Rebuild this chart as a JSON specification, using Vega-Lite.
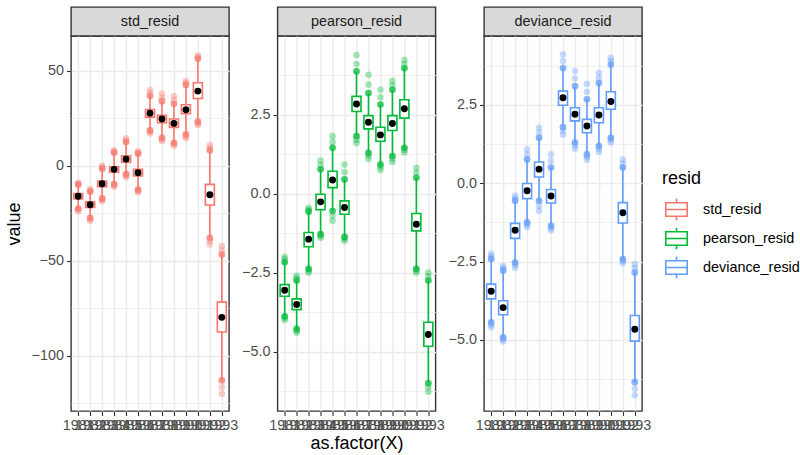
{
  "$schema": "https://vega.github.io/schema/vega-lite/v6.json",
  "background": "white",
  "padding": {"left": 4, "top": 6, "right": 4, "bottom": 4},
  "config": {
    "font": "Liberation Sans",
    "view": {"stroke": "#333333", "strokeWidth": 1.4},
    "axis": {
      "labelFontSize": 14.4, "labelColor": "#4D4D4D", "labelPadding": 3,
      "tickColor": "#333333", "tickSize": 4.5, "tickWidth": 1.1,
      "domain": false, "gridColor": "#EBEBEB",
      "titleFontSize": 18, "titleFontWeight": "normal", "titleColor": "black"
    }
  },
  "datasets": {
    "strips": [{"resid": "std_resid"}, {"resid": "pearson_resid"}, {"resid": "deviance_resid"}],
    "stats": [
      {"resid":"std_resid","year":"1981","lo":-22.5,"q1":-17.5,"mean":-16.1,"q3":-14.7,"hi":-10},
      {"resid":"std_resid","year":"1982","lo":-27.4,"q1":-22,"mean":-20.5,"q3":-19,"hi":-13.7},
      {"resid":"std_resid","year":"1983","lo":-17.2,"q1":-11,"mean":-9.5,"q3":-8,"hi":-1.6},
      {"resid":"std_resid","year":"1984","lo":-9.6,"q1":-3.4,"mean":-1.9,"q3":-0.5,"hi":6.8},
      {"resid":"std_resid","year":"1985","lo":-4.4,"q1":1.9,"mean":3.5,"q3":5.2,"hi":12.5},
      {"resid":"std_resid","year":"1986","lo":-12.6,"q1":-5.4,"mean":-3.7,"q3":-1.9,"hi":6.3},
      {"resid":"std_resid","year":"1987","lo":18.6,"q1":25.6,"mean":27.7,"q3":29.6,"hi":36.7},
      {"resid":"std_resid","year":"1988","lo":14.7,"q1":22.6,"mean":24.6,"q3":26.5,"hi":34},
      {"resid":"std_resid","year":"1989","lo":12.1,"q1":20.2,"mean":22.3,"q3":24.6,"hi":32.6},
      {"resid":"std_resid","year":"1990","lo":16.5,"q1":27.4,"mean":29.5,"q3":32.1,"hi":42.5},
      {"resid":"std_resid","year":"1991","lo":23.2,"q1":35.4,"mean":39.3,"q3":43.7,"hi":56.3},
      {"resid":"std_resid","year":"1992","lo":-38,"q1":-20.7,"mean":-15.3,"q3":-9.8,"hi":8.1},
      {"resid":"std_resid","year":"1993","lo":-113,"q1":-87.5,"mean":-79.8,"q3":-71.8,"hi":-46.7},
      {"resid":"pearson_resid","year":"1981","lo":-3.88,"q1":-3.25,"mean":-3.06,"q3":-2.88,"hi":-2.17},
      {"resid":"pearson_resid","year":"1982","lo":-4.28,"q1":-3.67,"mean":-3.51,"q3":-3.33,"hi":-2.75},
      {"resid":"pearson_resid","year":"1983","lo":-2.38,"q1":-1.68,"mean":-1.44,"q3":-1.23,"hi":-0.57},
      {"resid":"pearson_resid","year":"1984","lo":-1.28,"q1":-0.51,"mean":-0.26,"q3":-0.02,"hi":0.77},
      {"resid":"pearson_resid","year":"1985","lo":-0.55,"q1":0.19,"mean":0.43,"q3":0.71,"hi":1.45},
      {"resid":"pearson_resid","year":"1986","lo":-1.37,"q1":-0.65,"mean":-0.44,"q3":-0.23,"hi":0.45},
      {"resid":"pearson_resid","year":"1987","lo":1.82,"q1":2.6,"mean":2.84,"q3":3.08,"hi":3.87},
      {"resid":"pearson_resid","year":"1988","lo":1.29,"q1":2.05,"mean":2.26,"q3":2.47,"hi":3.18},
      {"resid":"pearson_resid","year":"1989","lo":0.92,"q1":1.66,"mean":1.86,"q3":2.1,"hi":2.82},
      {"resid":"pearson_resid","year":"1990","lo":1.19,"q1":2.0,"mean":2.22,"q3":2.47,"hi":3.29},
      {"resid":"pearson_resid","year":"1991","lo":1.45,"q1":2.39,"mean":2.69,"q3":2.97,"hi":3.97},
      {"resid":"pearson_resid","year":"1992","lo":-2.38,"q1":-1.18,"mean":-0.97,"q3":-0.63,"hi":0.5},
      {"resid":"pearson_resid","year":"1993","lo":-6.0,"q1":-4.83,"mean":-4.46,"q3":-4.07,"hi":-2.75},
      {"resid":"deviance_resid","year":"1981","lo":-4.44,"q1":-3.69,"mean":-3.45,"q3":-3.22,"hi":-2.42},
      {"resid":"deviance_resid","year":"1982","lo":-4.92,"q1":-4.2,"mean":-3.97,"q3":-3.75,"hi":-2.79},
      {"resid":"deviance_resid","year":"1983","lo":-2.53,"q1":-1.76,"mean":-1.5,"q3":-1.28,"hi":-0.56},
      {"resid":"deviance_resid","year":"1984","lo":-1.25,"q1":-0.49,"mean":-0.24,"q3":-0.01,"hi":0.76},
      {"resid":"deviance_resid","year":"1985","lo":-0.56,"q1":0.2,"mean":0.45,"q3":0.68,"hi":1.45},
      {"resid":"deviance_resid","year":"1986","lo":-1.36,"q1":-0.63,"mean":-0.41,"q3":-0.2,"hi":0.5},
      {"resid":"deviance_resid","year":"1987","lo":1.79,"q1":2.49,"mean":2.73,"q3":2.94,"hi":3.68},
      {"resid":"deviance_resid","year":"1988","lo":1.3,"q1":1.99,"mean":2.2,"q3":2.41,"hi":3.1},
      {"resid":"deviance_resid","year":"1989","lo":0.92,"q1":1.61,"mean":1.83,"q3":2.04,"hi":2.68},
      {"resid":"deviance_resid","year":"1990","lo":1.19,"q1":1.93,"mean":2.18,"q3":2.41,"hi":3.2},
      {"resid":"deviance_resid","year":"1991","lo":1.45,"q1":2.36,"mean":2.61,"q3":2.92,"hi":3.79},
      {"resid":"deviance_resid","year":"1992","lo":-2.42,"q1":-1.27,"mean":-0.94,"q3":-0.62,"hi":0.5},
      {"resid":"deviance_resid","year":"1993","lo":-6.35,"q1":-5.04,"mean":-4.66,"q3":-4.22,"hi":-2.85}
    ],
    "pts": [
      {"resid":"std_resid","year":"1981","value":-10},{"resid":"std_resid","year":"1981","value":-10},{"resid":"std_resid","year":"1981","value":-10},{"resid":"std_resid","year":"1981","value":-9.5},{"resid":"std_resid","year":"1981","value":-9},
      {"resid":"std_resid","year":"1981","value":-22.5},{"resid":"std_resid","year":"1981","value":-22.5},{"resid":"std_resid","year":"1981","value":-22.5},{"resid":"std_resid","year":"1981","value":-23.2},{"resid":"std_resid","year":"1981","value":-24},
      {"resid":"std_resid","year":"1982","value":-13.7},{"resid":"std_resid","year":"1982","value":-13.7},{"resid":"std_resid","year":"1982","value":-13.7},{"resid":"std_resid","year":"1982","value":-13},{"resid":"std_resid","year":"1982","value":-12.3},
      {"resid":"std_resid","year":"1982","value":-27.4},{"resid":"std_resid","year":"1982","value":-27.4},{"resid":"std_resid","year":"1982","value":-27.4},{"resid":"std_resid","year":"1982","value":-28.2},{"resid":"std_resid","year":"1982","value":-29},
      {"resid":"std_resid","year":"1983","value":-1.6},{"resid":"std_resid","year":"1983","value":-1.6},{"resid":"std_resid","year":"1983","value":-1.6},{"resid":"std_resid","year":"1983","value":-0.8},{"resid":"std_resid","year":"1983","value":0},
      {"resid":"std_resid","year":"1983","value":-17.2},{"resid":"std_resid","year":"1983","value":-17.2},{"resid":"std_resid","year":"1983","value":-17.2},{"resid":"std_resid","year":"1983","value":-17.9},{"resid":"std_resid","year":"1983","value":-18.6},
      {"resid":"std_resid","year":"1984","value":6.8},{"resid":"std_resid","year":"1984","value":6.8},{"resid":"std_resid","year":"1984","value":6.8},{"resid":"std_resid","year":"1984","value":7.5},{"resid":"std_resid","year":"1984","value":8.2},
      {"resid":"std_resid","year":"1984","value":-9.6},{"resid":"std_resid","year":"1984","value":-9.6},{"resid":"std_resid","year":"1984","value":-9.6},{"resid":"std_resid","year":"1984","value":-10.3},{"resid":"std_resid","year":"1984","value":-11},
      {"resid":"std_resid","year":"1985","value":12.5},{"resid":"std_resid","year":"1985","value":12.5},{"resid":"std_resid","year":"1985","value":12.5},{"resid":"std_resid","year":"1985","value":13.4},{"resid":"std_resid","year":"1985","value":14.4},
      {"resid":"std_resid","year":"1985","value":-4.4},{"resid":"std_resid","year":"1985","value":-4.4},{"resid":"std_resid","year":"1985","value":-4.4},{"resid":"std_resid","year":"1985","value":-5.2},{"resid":"std_resid","year":"1985","value":-6},
      {"resid":"std_resid","year":"1986","value":6.3},{"resid":"std_resid","year":"1986","value":6.3},{"resid":"std_resid","year":"1986","value":6.3},{"resid":"std_resid","year":"1986","value":7},{"resid":"std_resid","year":"1986","value":7.6},
      {"resid":"std_resid","year":"1986","value":-12.6},{"resid":"std_resid","year":"1986","value":-12.6},{"resid":"std_resid","year":"1986","value":-12.6},{"resid":"std_resid","year":"1986","value":-13.3},{"resid":"std_resid","year":"1986","value":-14},
      {"resid":"std_resid","year":"1987","value":36.7},{"resid":"std_resid","year":"1987","value":36.7},{"resid":"std_resid","year":"1987","value":36.7},{"resid":"std_resid","year":"1987","value":38.4},{"resid":"std_resid","year":"1987","value":40},
      {"resid":"std_resid","year":"1987","value":18.6},{"resid":"std_resid","year":"1987","value":18.6},{"resid":"std_resid","year":"1987","value":18.6},{"resid":"std_resid","year":"1987","value":17.8},{"resid":"std_resid","year":"1987","value":17},
      {"resid":"std_resid","year":"1988","value":34},{"resid":"std_resid","year":"1988","value":34},{"resid":"std_resid","year":"1988","value":34},{"resid":"std_resid","year":"1988","value":36},{"resid":"std_resid","year":"1988","value":38},
      {"resid":"std_resid","year":"1988","value":14.7},{"resid":"std_resid","year":"1988","value":14.7},{"resid":"std_resid","year":"1988","value":14.7},{"resid":"std_resid","year":"1988","value":13.8},{"resid":"std_resid","year":"1988","value":13},
      {"resid":"std_resid","year":"1989","value":32.6},{"resid":"std_resid","year":"1989","value":32.6},{"resid":"std_resid","year":"1989","value":32.6},{"resid":"std_resid","year":"1989","value":34.6},{"resid":"std_resid","year":"1989","value":36.7},
      {"resid":"std_resid","year":"1989","value":12.1},{"resid":"std_resid","year":"1989","value":12.1},{"resid":"std_resid","year":"1989","value":12.1},{"resid":"std_resid","year":"1989","value":11.3},{"resid":"std_resid","year":"1989","value":10.5},
      {"resid":"std_resid","year":"1990","value":42.5},{"resid":"std_resid","year":"1990","value":42.5},{"resid":"std_resid","year":"1990","value":42.5},{"resid":"std_resid","year":"1990","value":43.5},{"resid":"std_resid","year":"1990","value":44.6},
      {"resid":"std_resid","year":"1990","value":16.5},{"resid":"std_resid","year":"1990","value":16.5},{"resid":"std_resid","year":"1990","value":16.5},{"resid":"std_resid","year":"1990","value":15.5},{"resid":"std_resid","year":"1990","value":14.5},
      {"resid":"std_resid","year":"1991","value":56.3},{"resid":"std_resid","year":"1991","value":56.3},{"resid":"std_resid","year":"1991","value":56.3},{"resid":"std_resid","year":"1991","value":57.2},{"resid":"std_resid","year":"1991","value":58},
      {"resid":"std_resid","year":"1991","value":23.2},{"resid":"std_resid","year":"1991","value":23.2},{"resid":"std_resid","year":"1991","value":23.2},{"resid":"std_resid","year":"1991","value":22.3},{"resid":"std_resid","year":"1991","value":21.5},
      {"resid":"std_resid","year":"1992","value":8.1},{"resid":"std_resid","year":"1992","value":8.1},{"resid":"std_resid","year":"1992","value":8.1},{"resid":"std_resid","year":"1992","value":9.5},{"resid":"std_resid","year":"1992","value":11},
      {"resid":"std_resid","year":"1992","value":-38},{"resid":"std_resid","year":"1992","value":-38},{"resid":"std_resid","year":"1992","value":-38},{"resid":"std_resid","year":"1992","value":-39.8},{"resid":"std_resid","year":"1992","value":-41.5},
      {"resid":"std_resid","year":"1993","value":-46.7},{"resid":"std_resid","year":"1993","value":-46.7},{"resid":"std_resid","year":"1993","value":-46.7},{"resid":"std_resid","year":"1993","value":-44.5},{"resid":"std_resid","year":"1993","value":-42.3},
      {"resid":"std_resid","year":"1993","value":-113},{"resid":"std_resid","year":"1993","value":-113},{"resid":"std_resid","year":"1993","value":-113},{"resid":"std_resid","year":"1993","value":-116.5},{"resid":"std_resid","year":"1993","value":-120},

      {"resid":"pearson_resid","year":"1981","value":-2.17},{"resid":"pearson_resid","year":"1981","value":-2.17},{"resid":"pearson_resid","year":"1981","value":-2.17},{"resid":"pearson_resid","year":"1981","value":-2.08},{"resid":"pearson_resid","year":"1981","value":-2.0},
      {"resid":"pearson_resid","year":"1981","value":-3.88},{"resid":"pearson_resid","year":"1981","value":-3.88},{"resid":"pearson_resid","year":"1981","value":-3.88},{"resid":"pearson_resid","year":"1981","value":-3.94},{"resid":"pearson_resid","year":"1981","value":-4.0},
      {"resid":"pearson_resid","year":"1982","value":-2.75},{"resid":"pearson_resid","year":"1982","value":-2.75},{"resid":"pearson_resid","year":"1982","value":-2.75},{"resid":"pearson_resid","year":"1982","value":-2.68},{"resid":"pearson_resid","year":"1982","value":-2.6},
      {"resid":"pearson_resid","year":"1982","value":-4.28},{"resid":"pearson_resid","year":"1982","value":-4.28},{"resid":"pearson_resid","year":"1982","value":-4.28},{"resid":"pearson_resid","year":"1982","value":-4.34},{"resid":"pearson_resid","year":"1982","value":-4.4},
      {"resid":"pearson_resid","year":"1983","value":-0.57},{"resid":"pearson_resid","year":"1983","value":-0.57},{"resid":"pearson_resid","year":"1983","value":-0.57},{"resid":"pearson_resid","year":"1983","value":-0.51},{"resid":"pearson_resid","year":"1983","value":-0.45},
      {"resid":"pearson_resid","year":"1983","value":-2.38},{"resid":"pearson_resid","year":"1983","value":-2.38},{"resid":"pearson_resid","year":"1983","value":-2.38},{"resid":"pearson_resid","year":"1983","value":-2.44},{"resid":"pearson_resid","year":"1983","value":-2.5},
      {"resid":"pearson_resid","year":"1984","value":0.77},{"resid":"pearson_resid","year":"1984","value":0.77},{"resid":"pearson_resid","year":"1984","value":0.77},{"resid":"pearson_resid","year":"1984","value":0.91},{"resid":"pearson_resid","year":"1984","value":1.05},
      {"resid":"pearson_resid","year":"1984","value":-1.28},{"resid":"pearson_resid","year":"1984","value":-1.28},{"resid":"pearson_resid","year":"1984","value":-1.28},{"resid":"pearson_resid","year":"1984","value":-1.34},{"resid":"pearson_resid","year":"1984","value":-1.4},
      {"resid":"pearson_resid","year":"1985","value":1.45},{"resid":"pearson_resid","year":"1985","value":1.45},{"resid":"pearson_resid","year":"1985","value":1.45},{"resid":"pearson_resid","year":"1985","value":1.63},{"resid":"pearson_resid","year":"1985","value":1.82},
      {"resid":"pearson_resid","year":"1985","value":-0.55},{"resid":"pearson_resid","year":"1985","value":-0.55},{"resid":"pearson_resid","year":"1985","value":-0.55},{"resid":"pearson_resid","year":"1985","value":-0.7},{"resid":"pearson_resid","year":"1985","value":-0.86},
      {"resid":"pearson_resid","year":"1986","value":0.45},{"resid":"pearson_resid","year":"1986","value":0.45},{"resid":"pearson_resid","year":"1986","value":0.45},{"resid":"pearson_resid","year":"1986","value":0.68},{"resid":"pearson_resid","year":"1986","value":0.92},
      {"resid":"pearson_resid","year":"1986","value":-1.37},{"resid":"pearson_resid","year":"1986","value":-1.37},{"resid":"pearson_resid","year":"1986","value":-1.37},{"resid":"pearson_resid","year":"1986","value":-1.43},{"resid":"pearson_resid","year":"1986","value":-1.5},
      {"resid":"pearson_resid","year":"1987","value":3.87},{"resid":"pearson_resid","year":"1987","value":3.87},{"resid":"pearson_resid","year":"1987","value":3.87},{"resid":"pearson_resid","year":"1987","value":4.1},{"resid":"pearson_resid","year":"1987","value":4.39},
      {"resid":"pearson_resid","year":"1987","value":1.82},{"resid":"pearson_resid","year":"1987","value":1.82},{"resid":"pearson_resid","year":"1987","value":1.82},{"resid":"pearson_resid","year":"1987","value":1.7},{"resid":"pearson_resid","year":"1987","value":1.6},
      {"resid":"pearson_resid","year":"1988","value":3.18},{"resid":"pearson_resid","year":"1988","value":3.18},{"resid":"pearson_resid","year":"1988","value":3.18},{"resid":"pearson_resid","year":"1988","value":3.45},{"resid":"pearson_resid","year":"1988","value":3.76},
      {"resid":"pearson_resid","year":"1988","value":1.29},{"resid":"pearson_resid","year":"1988","value":1.29},{"resid":"pearson_resid","year":"1988","value":1.29},{"resid":"pearson_resid","year":"1988","value":1.2},{"resid":"pearson_resid","year":"1988","value":1.1},
      {"resid":"pearson_resid","year":"1989","value":2.82},{"resid":"pearson_resid","year":"1989","value":2.82},{"resid":"pearson_resid","year":"1989","value":2.82},{"resid":"pearson_resid","year":"1989","value":3.05},{"resid":"pearson_resid","year":"1989","value":3.29},
      {"resid":"pearson_resid","year":"1989","value":0.92},{"resid":"pearson_resid","year":"1989","value":0.92},{"resid":"pearson_resid","year":"1989","value":0.92},{"resid":"pearson_resid","year":"1989","value":0.84},{"resid":"pearson_resid","year":"1989","value":0.75},
      {"resid":"pearson_resid","year":"1990","value":3.29},{"resid":"pearson_resid","year":"1990","value":3.29},{"resid":"pearson_resid","year":"1990","value":3.29},{"resid":"pearson_resid","year":"1990","value":3.43},{"resid":"pearson_resid","year":"1990","value":3.57},
      {"resid":"pearson_resid","year":"1990","value":1.19},{"resid":"pearson_resid","year":"1990","value":1.19},{"resid":"pearson_resid","year":"1990","value":1.19},{"resid":"pearson_resid","year":"1990","value":1.1},{"resid":"pearson_resid","year":"1990","value":1.0},
      {"resid":"pearson_resid","year":"1991","value":3.97},{"resid":"pearson_resid","year":"1991","value":3.97},{"resid":"pearson_resid","year":"1991","value":3.97},{"resid":"pearson_resid","year":"1991","value":4.1},{"resid":"pearson_resid","year":"1991","value":4.23},
      {"resid":"pearson_resid","year":"1991","value":1.45},{"resid":"pearson_resid","year":"1991","value":1.45},{"resid":"pearson_resid","year":"1991","value":1.45},{"resid":"pearson_resid","year":"1991","value":1.38},{"resid":"pearson_resid","year":"1991","value":1.3},
      {"resid":"pearson_resid","year":"1992","value":0.5},{"resid":"pearson_resid","year":"1992","value":0.5},{"resid":"pearson_resid","year":"1992","value":0.5},{"resid":"pearson_resid","year":"1992","value":0.66},{"resid":"pearson_resid","year":"1992","value":0.82},
      {"resid":"pearson_resid","year":"1992","value":-2.38},{"resid":"pearson_resid","year":"1992","value":-2.38},{"resid":"pearson_resid","year":"1992","value":-2.38},{"resid":"pearson_resid","year":"1992","value":-2.44},{"resid":"pearson_resid","year":"1992","value":-2.5},
      {"resid":"pearson_resid","year":"1993","value":-2.75},{"resid":"pearson_resid","year":"1993","value":-2.75},{"resid":"pearson_resid","year":"1993","value":-2.75},{"resid":"pearson_resid","year":"1993","value":-2.62},{"resid":"pearson_resid","year":"1993","value":-2.5},
      {"resid":"pearson_resid","year":"1993","value":-6.0},{"resid":"pearson_resid","year":"1993","value":-6.0},{"resid":"pearson_resid","year":"1993","value":-6.0},{"resid":"pearson_resid","year":"1993","value":-6.13},{"resid":"pearson_resid","year":"1993","value":-6.27},

      {"resid":"deviance_resid","year":"1981","value":-2.42},{"resid":"deviance_resid","year":"1981","value":-2.42},{"resid":"deviance_resid","year":"1981","value":-2.42},{"resid":"deviance_resid","year":"1981","value":-2.33},{"resid":"deviance_resid","year":"1981","value":-2.25},
      {"resid":"deviance_resid","year":"1981","value":-4.44},{"resid":"deviance_resid","year":"1981","value":-4.44},{"resid":"deviance_resid","year":"1981","value":-4.44},{"resid":"deviance_resid","year":"1981","value":-4.52},{"resid":"deviance_resid","year":"1981","value":-4.6},
      {"resid":"deviance_resid","year":"1982","value":-2.79},{"resid":"deviance_resid","year":"1982","value":-2.79},{"resid":"deviance_resid","year":"1982","value":-2.79},{"resid":"deviance_resid","year":"1982","value":-2.71},{"resid":"deviance_resid","year":"1982","value":-2.64},
      {"resid":"deviance_resid","year":"1982","value":-4.92},{"resid":"deviance_resid","year":"1982","value":-4.92},{"resid":"deviance_resid","year":"1982","value":-4.92},{"resid":"deviance_resid","year":"1982","value":-4.98},{"resid":"deviance_resid","year":"1982","value":-5.05},
      {"resid":"deviance_resid","year":"1983","value":-0.56},{"resid":"deviance_resid","year":"1983","value":-0.56},{"resid":"deviance_resid","year":"1983","value":-0.56},{"resid":"deviance_resid","year":"1983","value":-0.48},{"resid":"deviance_resid","year":"1983","value":-0.4},
      {"resid":"deviance_resid","year":"1983","value":-2.53},{"resid":"deviance_resid","year":"1983","value":-2.53},{"resid":"deviance_resid","year":"1983","value":-2.53},{"resid":"deviance_resid","year":"1983","value":-2.61},{"resid":"deviance_resid","year":"1983","value":-2.7},
      {"resid":"deviance_resid","year":"1984","value":0.76},{"resid":"deviance_resid","year":"1984","value":0.76},{"resid":"deviance_resid","year":"1984","value":0.76},{"resid":"deviance_resid","year":"1984","value":0.92},{"resid":"deviance_resid","year":"1984","value":1.08},
      {"resid":"deviance_resid","year":"1984","value":-1.25},{"resid":"deviance_resid","year":"1984","value":-1.25},{"resid":"deviance_resid","year":"1984","value":-1.25},{"resid":"deviance_resid","year":"1984","value":-1.32},{"resid":"deviance_resid","year":"1984","value":-1.4},
      {"resid":"deviance_resid","year":"1985","value":1.45},{"resid":"deviance_resid","year":"1985","value":1.45},{"resid":"deviance_resid","year":"1985","value":1.45},{"resid":"deviance_resid","year":"1985","value":1.61},{"resid":"deviance_resid","year":"1985","value":1.77},
      {"resid":"deviance_resid","year":"1985","value":-0.56},{"resid":"deviance_resid","year":"1985","value":-0.56},{"resid":"deviance_resid","year":"1985","value":-0.56},{"resid":"deviance_resid","year":"1985","value":-0.72},{"resid":"deviance_resid","year":"1985","value":-0.88},
      {"resid":"deviance_resid","year":"1986","value":0.5},{"resid":"deviance_resid","year":"1986","value":0.5},{"resid":"deviance_resid","year":"1986","value":0.5},{"resid":"deviance_resid","year":"1986","value":0.71},{"resid":"deviance_resid","year":"1986","value":0.92},
      {"resid":"deviance_resid","year":"1986","value":-1.36},{"resid":"deviance_resid","year":"1986","value":-1.36},{"resid":"deviance_resid","year":"1986","value":-1.36},{"resid":"deviance_resid","year":"1986","value":-1.43},{"resid":"deviance_resid","year":"1986","value":-1.5},
      {"resid":"deviance_resid","year":"1987","value":3.68},{"resid":"deviance_resid","year":"1987","value":3.68},{"resid":"deviance_resid","year":"1987","value":3.68},{"resid":"deviance_resid","year":"1987","value":3.9},{"resid":"deviance_resid","year":"1987","value":4.11},
      {"resid":"deviance_resid","year":"1987","value":1.79},{"resid":"deviance_resid","year":"1987","value":1.79},{"resid":"deviance_resid","year":"1987","value":1.79},{"resid":"deviance_resid","year":"1987","value":1.67},{"resid":"deviance_resid","year":"1987","value":1.55},
      {"resid":"deviance_resid","year":"1988","value":3.1},{"resid":"deviance_resid","year":"1988","value":3.1},{"resid":"deviance_resid","year":"1988","value":3.1},{"resid":"deviance_resid","year":"1988","value":3.34},{"resid":"deviance_resid","year":"1988","value":3.58},
      {"resid":"deviance_resid","year":"1988","value":1.3},{"resid":"deviance_resid","year":"1988","value":1.3},{"resid":"deviance_resid","year":"1988","value":1.3},{"resid":"deviance_resid","year":"1988","value":1.2},{"resid":"deviance_resid","year":"1988","value":1.1},
      {"resid":"deviance_resid","year":"1989","value":2.68},{"resid":"deviance_resid","year":"1989","value":2.68},{"resid":"deviance_resid","year":"1989","value":2.68},{"resid":"deviance_resid","year":"1989","value":2.92},{"resid":"deviance_resid","year":"1989","value":3.17},
      {"resid":"deviance_resid","year":"1989","value":0.92},{"resid":"deviance_resid","year":"1989","value":0.92},{"resid":"deviance_resid","year":"1989","value":0.92},{"resid":"deviance_resid","year":"1989","value":0.84},{"resid":"deviance_resid","year":"1989","value":0.75},
      {"resid":"deviance_resid","year":"1990","value":3.2},{"resid":"deviance_resid","year":"1990","value":3.2},{"resid":"deviance_resid","year":"1990","value":3.2},{"resid":"deviance_resid","year":"1990","value":3.36},{"resid":"deviance_resid","year":"1990","value":3.52},
      {"resid":"deviance_resid","year":"1990","value":1.19},{"resid":"deviance_resid","year":"1990","value":1.19},{"resid":"deviance_resid","year":"1990","value":1.19},{"resid":"deviance_resid","year":"1990","value":1.1},{"resid":"deviance_resid","year":"1990","value":1.0},
      {"resid":"deviance_resid","year":"1991","value":3.79},{"resid":"deviance_resid","year":"1991","value":3.79},{"resid":"deviance_resid","year":"1991","value":3.79},{"resid":"deviance_resid","year":"1991","value":3.9},{"resid":"deviance_resid","year":"1991","value":4.0},
      {"resid":"deviance_resid","year":"1991","value":1.45},{"resid":"deviance_resid","year":"1991","value":1.45},{"resid":"deviance_resid","year":"1991","value":1.45},{"resid":"deviance_resid","year":"1991","value":1.38},{"resid":"deviance_resid","year":"1991","value":1.3},
      {"resid":"deviance_resid","year":"1992","value":0.5},{"resid":"deviance_resid","year":"1992","value":0.5},{"resid":"deviance_resid","year":"1992","value":0.5},{"resid":"deviance_resid","year":"1992","value":0.63},{"resid":"deviance_resid","year":"1992","value":0.76},
      {"resid":"deviance_resid","year":"1992","value":-2.42},{"resid":"deviance_resid","year":"1992","value":-2.42},{"resid":"deviance_resid","year":"1992","value":-2.42},{"resid":"deviance_resid","year":"1992","value":-2.48},{"resid":"deviance_resid","year":"1992","value":-2.55},
      {"resid":"deviance_resid","year":"1993","value":-2.85},{"resid":"deviance_resid","year":"1993","value":-2.85},{"resid":"deviance_resid","year":"1993","value":-2.85},{"resid":"deviance_resid","year":"1993","value":-2.71},{"resid":"deviance_resid","year":"1993","value":-2.58},
      {"resid":"deviance_resid","year":"1993","value":-6.35},{"resid":"deviance_resid","year":"1993","value":-6.35},{"resid":"deviance_resid","year":"1993","value":-6.35},{"resid":"deviance_resid","year":"1993","value":-6.56},{"resid":"deviance_resid","year":"1993","value":-6.77}
    ]
  },
  "hconcat": [
    {
      "vconcat": [
        {
          "data": {"name": "strips"},
          "transform": [{"filter": "datum.resid === 'std_resid'"}],
          "width": 158, "height": 29,
          "view": {"fill": "#D9D9D9", "stroke": "#333333", "strokeWidth": 1.4},
          "mark": {"type": "text", "fontSize": 14.4, "color": "#1A1A1A", "baseline": "middle", "align": "center"},
          "encoding": {"text": {"field": "resid"}}
        },
        {
          "width": 158, "height": 375,
          "encoding": {
            "x": {"field": "year", "type": "nominal", "title": null,
              "scale": {"type": "point", "padding": 0.6},
              "axis": {"labelAngle": 0, "labelOverlap": false, "labelFlush": false, "labelBound": false, "grid": true, "gridWidth": 1.5}}
          },
          "layer": [
            {
              "data": {"name": "pts"},
              "transform": [{"filter": "datum.resid === 'std_resid'"}],
              "mark": {"type": "circle", "size": 44, "opacity": 0.36},
              "encoding": {
                "y": {"field": "value", "type": "quantitative", "title": "value",
                  "scale": {"domain": [-129.1, 68.3], "nice": false, "zero": false},
                  "axis": {"values": [-125, -100, -75, -50, -25, 0, 25, 50],
                    "labelExpr": "datum.value % 50 === 0 ? format(datum.value, 'd') : ''",
                    "tickOpacity": {"condition": {"test": "datum.value % 50 !== 0", "value": 0}, "value": 1},
                    "gridWidth": {"condition": {"test": "datum.value % 50 !== 0", "value": 0.75}, "value": 1.5},
                    "titlePadding": 8}},
                "fill": {"field": "resid", "type": "nominal", "legend": null,
                  "scale": {"domain": ["deviance_resid", "pearson_resid", "std_resid"], "range": ["#619CFF", "#00BA38", "#F8766D"]}}
              }
            },
            {
              "data": {"name": "stats"},
              "transform": [{"filter": "datum.resid === 'std_resid'"}],
              "mark": {"type": "rule", "strokeWidth": 1.6},
              "encoding": {
                "y": {"field": "lo", "type": "quantitative", "title": "value"}, "y2": {"field": "hi"},
                "color": {"field": "resid", "type": "nominal",
                  "scale": {"domain": ["std_resid", "pearson_resid", "deviance_resid"], "range": ["#F8766D", "#00BA38", "#619CFF"]},
                  "legend": {"title": "resid", "orient": "none", "legendX": 591, "legendY": 163,
                    "titleFontSize": 18, "titleFontWeight": "normal", "titleColor": "black", "titlePadding": 7,
                    "labelFontSize": 14.4, "labelColor": "black", "labelOffset": 12,
                    "symbolType": "M-0.8,-0.5H0.8V0.5H-0.8Z M-0.8,0H0.8 M0,-0.5V-0.8 M0,0.5V0.8",
                    "symbolSize": 720, "rowPadding": 0,
                    "symbolFillColor": "white", "symbolStrokeWidth": 1.6, "symbolOpacity": 1}}
              }
            },
            {
              "data": {"name": "stats"},
              "transform": [{"filter": "datum.resid === 'std_resid'"}],
              "mark": {"type": "bar", "fill": "white", "width": 9},
              "encoding": {"y": {"field": "q1", "type": "quantitative", "title": "value"}, "y2": {"field": "q3"}}
            },
            {
              "data": {"name": "stats"},
              "transform": [{"filter": "datum.resid === 'std_resid'"}],
              "mark": {"type": "bar", "filled": false, "strokeWidth": 1.6, "width": 9},
              "encoding": {"y": {"field": "q1", "type": "quantitative", "title": "value"}, "y2": {"field": "q3"}, "color": {"field": "resid", "type": "nominal"}}
            },
            {
              "data": {"name": "stats"},
              "transform": [{"filter": "datum.resid === 'std_resid'"}],
              "mark": {"type": "circle", "size": 48, "color": "black", "opacity": 1},
              "encoding": {"y": {"field": "mean", "type": "quantitative", "title": "value"}}
            }
          ]
        }
      ],
      "spacing": 0, "bounds": "flush"
    },
    {
      "vconcat": [
        {
          "data": {"name": "strips"},
          "transform": [{"filter": "datum.resid === 'pearson_resid'"}],
          "width": 158, "height": 29,
          "view": {"fill": "#D9D9D9", "stroke": "#333333", "strokeWidth": 1.4},
          "mark": {"type": "text", "fontSize": 14.4, "color": "#1A1A1A", "baseline": "middle", "align": "center"},
          "encoding": {"text": {"field": "resid"}}
        },
        {
          "width": 158, "height": 375,
          "encoding": {
            "x": {"field": "year", "type": "nominal", "title": "as.factor(X)",
              "scale": {"type": "point", "padding": 0.6},
              "axis": {"labelAngle": 0, "labelOverlap": false, "labelFlush": false, "labelBound": false, "grid": true, "gridWidth": 1.5, "titlePadding": 3}}
          },
          "layer": [
            {
              "data": {"name": "pts"},
              "transform": [{"filter": "datum.resid === 'pearson_resid'"}],
              "mark": {"type": "circle", "size": 44, "opacity": 0.36},
              "encoding": {
                "y": {"field": "value", "type": "quantitative", "title": null,
                  "scale": {"domain": [-6.88, 4.99], "nice": false, "zero": false},
                  "axis": {"values": [-6.25, -5, -3.75, -2.5, -1.25, 0, 1.25, 2.5, 3.75],
                    "labelExpr": "datum.value % 2.5 === 0 ? format(datum.value, '.1f') : ''",
                    "tickOpacity": {"condition": {"test": "datum.value % 2.5 !== 0", "value": 0}, "value": 1},
                    "gridWidth": {"condition": {"test": "datum.value % 2.5 !== 0", "value": 0.75}, "value": 1.5}}},
                "fill": {"field": "resid", "type": "nominal", "legend": null}
              }
            },
            {
              "data": {"name": "stats"},
              "transform": [{"filter": "datum.resid === 'pearson_resid'"}],
              "mark": {"type": "rule", "strokeWidth": 1.6},
              "encoding": {"y": {"field": "lo", "type": "quantitative", "title": null}, "y2": {"field": "hi"}, "color": {"field": "resid", "type": "nominal"}}
            },
            {
              "data": {"name": "stats"},
              "transform": [{"filter": "datum.resid === 'pearson_resid'"}],
              "mark": {"type": "bar", "fill": "white", "width": 9},
              "encoding": {"y": {"field": "q1", "type": "quantitative", "title": null}, "y2": {"field": "q3"}}
            },
            {
              "data": {"name": "stats"},
              "transform": [{"filter": "datum.resid === 'pearson_resid'"}],
              "mark": {"type": "bar", "filled": false, "strokeWidth": 1.6, "width": 9},
              "encoding": {"y": {"field": "q1", "type": "quantitative", "title": null}, "y2": {"field": "q3"}, "color": {"field": "resid", "type": "nominal"}}
            },
            {
              "data": {"name": "stats"},
              "transform": [{"filter": "datum.resid === 'pearson_resid'"}],
              "mark": {"type": "circle", "size": 48, "color": "black", "opacity": 1},
              "encoding": {"y": {"field": "mean", "type": "quantitative", "title": null}}
            }
          ]
        }
      ],
      "spacing": 0, "bounds": "flush"
    },
    {
      "vconcat": [
        {
          "data": {"name": "strips"},
          "transform": [{"filter": "datum.resid === 'deviance_resid'"}],
          "width": 158, "height": 29,
          "view": {"fill": "#D9D9D9", "stroke": "#333333", "strokeWidth": 1.4},
          "mark": {"type": "text", "fontSize": 14.4, "color": "#1A1A1A", "baseline": "middle", "align": "center"},
          "encoding": {"text": {"field": "resid"}}
        },
        {
          "width": 158, "height": 375,
          "encoding": {
            "x": {"field": "year", "type": "nominal", "title": null,
              "scale": {"type": "point", "padding": 0.6},
              "axis": {"labelAngle": 0, "labelOverlap": false, "labelFlush": false, "labelBound": false, "grid": true, "gridWidth": 1.5}}
          },
          "layer": [
            {
              "data": {"name": "pts"},
              "transform": [{"filter": "datum.resid === 'deviance_resid'"}],
              "mark": {"type": "circle", "size": 44, "opacity": 0.36},
              "encoding": {
                "y": {"field": "value", "type": "quantitative", "title": null,
                  "scale": {"domain": [-7.27, 4.70], "nice": false, "zero": false},
                  "axis": {"values": [-6.25, -5, -3.75, -2.5, -1.25, 0, 1.25, 2.5, 3.75],
                    "labelExpr": "datum.value % 2.5 === 0 ? format(datum.value, '.1f') : ''",
                    "tickOpacity": {"condition": {"test": "datum.value % 2.5 !== 0", "value": 0}, "value": 1},
                    "gridWidth": {"condition": {"test": "datum.value % 2.5 !== 0", "value": 0.75}, "value": 1.5}}},
                "fill": {"field": "resid", "type": "nominal", "legend": null}
              }
            },
            {
              "data": {"name": "stats"},
              "transform": [{"filter": "datum.resid === 'deviance_resid'"}],
              "mark": {"type": "rule", "strokeWidth": 1.6},
              "encoding": {"y": {"field": "lo", "type": "quantitative", "title": null}, "y2": {"field": "hi"}, "color": {"field": "resid", "type": "nominal"}}
            },
            {
              "data": {"name": "stats"},
              "transform": [{"filter": "datum.resid === 'deviance_resid'"}],
              "mark": {"type": "bar", "fill": "white", "width": 9},
              "encoding": {"y": {"field": "q1", "type": "quantitative", "title": null}, "y2": {"field": "q3"}}
            },
            {
              "data": {"name": "stats"},
              "transform": [{"filter": "datum.resid === 'deviance_resid'"}],
              "mark": {"type": "bar", "filled": false, "strokeWidth": 1.6, "width": 9},
              "encoding": {"y": {"field": "q1", "type": "quantitative", "title": null}, "y2": {"field": "q3"}, "color": {"field": "resid", "type": "nominal"}}
            },
            {
              "data": {"name": "stats"},
              "transform": [{"filter": "datum.resid === 'deviance_resid'"}],
              "mark": {"type": "circle", "size": 48, "color": "black", "opacity": 1},
              "encoding": {"y": {"field": "mean", "type": "quantitative", "title": null}}
            }
          ]
        }
      ],
      "spacing": 0, "bounds": "flush"
    }
  ],
  "spacing": 1.5
}
